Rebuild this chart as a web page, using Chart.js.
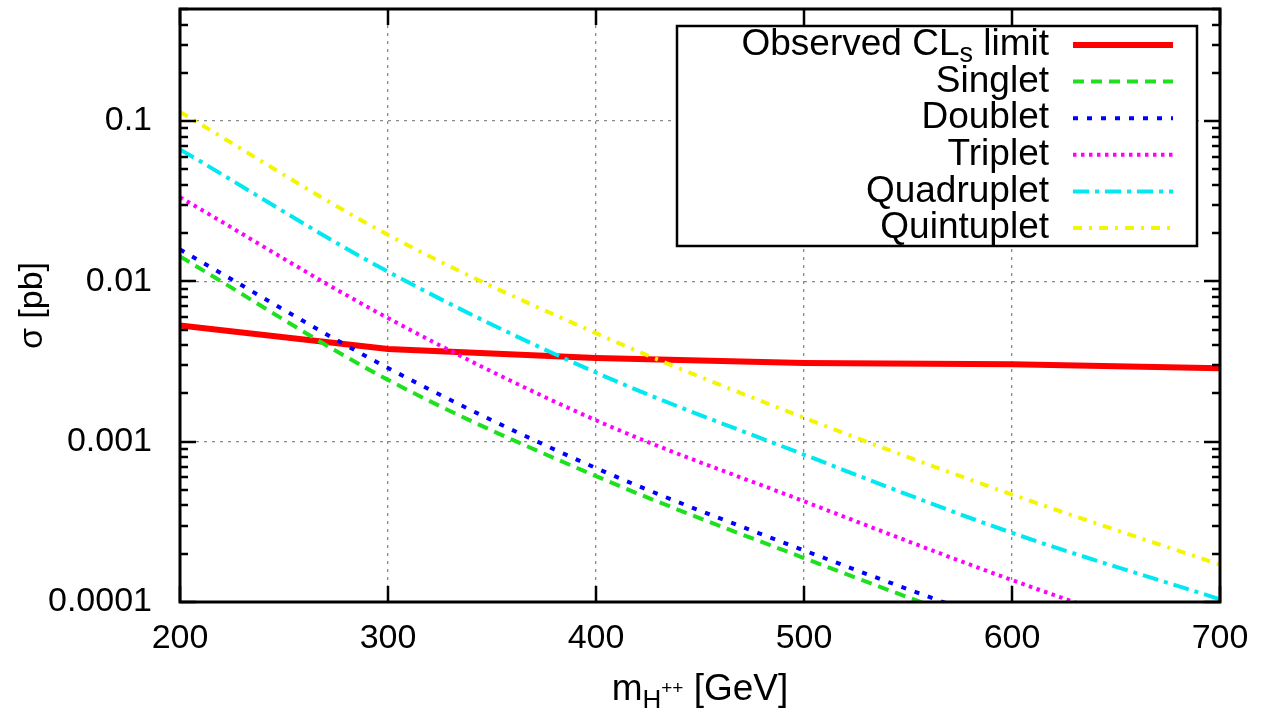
<!DOCTYPE html>
<html>
<head>
<meta charset="utf-8">
<script src="https://cdn.jsdelivr.net/npm/chart.js@4.4.0/dist/chart.umd.min.js"></script>
<style>
html, body { margin: 0; padding: 0; background: #fff; }
</style>
</head>
<body>
<canvas id="chart" width="1261" height="716"></canvas>
<script>
// valores (sigma em pb)
const masses = [200, 300, 400, 500, 600, 700];
const observed = [0.0053, 0.00378, 0.00333, 0.0031, 0.00304, 0.00287];
const singlet = [0.0143, 0.00243, 0.00061, 0.000188, 0.000062, 0.000022];
const doublet = [0.0158, 0.00288, 0.000685, 0.00021, 0.00007, 0.000025];
const triplet = [0.0335, 0.0059, 0.00136, 0.000425, 0.000137, 0.000049];
const quadruplet = [0.0666, 0.0115, 0.0027, 0.00083, 0.00027, 0.000104];
const quintuplet = [0.114, 0.0195, 0.00475, 0.00141, 0.000468, 0.000171];

const seriesLabels = ['Observed CLs limit', 'Singlet', 'Doublet', 'Triplet', 'Quadruplet', 'Quintuplet'];
const xTickValues = [200, 300, 400, 500, 600, 700];
const yTickValues = [0.0001, 0.001, 0.01, 0.1];
const yTickLabels = ['0.0001', '0.001', '0.01', '0.1'];

const FONT = "'Liberation Sans', Arial, sans-serif";

// marcas menores do eixo log (2..9 de cada década)
const yAllTicks = [];
yTickValues.forEach(d => {
    for (let k = 1; k <= 9; k++) {
        const v = +(k * d).toPrecision(3);
        if (v <= 0.5) yAllTicks.push(v);
    }
});

function pts(vals) {
    return masses.map((m, i) => ({ x: m, y: vals[i] }));
}

function makeSet(label, vals, color, width, dash, order, smooth) {
    return {
        label: label,
        data: pts(vals),
        borderColor: color,
        borderWidth: width,
        borderDash: dash,
        pointRadius: 0,
        fill: false,
        clip: 0,
        order: order,
        tension: 0,
        cubicInterpolationMode: smooth ? 'monotone' : 'default'
    };
}

// moldura e marcas de escala (para dentro, estilo gnuplot)
const framePlugin = {
    id: 'frame',
    afterDatasetsDraw(chart) {
        const { ctx, chartArea: a, scales } = chart;
        ctx.save();
        ctx.strokeStyle = '#000';
        ctx.lineWidth = 2.5;
        ctx.beginPath();
        scales.y.ticks.forEach(t => {
            const y = Math.round(scales.y.getPixelForValue(t.value));
            const len = yTickValues.includes(t.value) ? 16 : 8;
            ctx.moveTo(a.left, y); ctx.lineTo(a.left + len, y);
            ctx.moveTo(a.right, y); ctx.lineTo(a.right - len, y);
        });
        scales.x.ticks.forEach(t => {
            const x = Math.round(scales.x.getPixelForValue(t.value));
            ctx.moveTo(x, a.bottom); ctx.lineTo(x, a.bottom - 16);
            ctx.moveTo(x, a.top); ctx.lineTo(x, a.top + 16);
        });
        ctx.stroke();
        ctx.lineWidth = 3;
        ctx.strokeRect(a.left, a.top, a.right - a.left, a.bottom - a.top);
        ctx.restore();
    }
};

// legenda com texto à direita e amostra da linha
const keyPlugin = {
    id: 'key',
    afterDraw(chart) {
        const { ctx } = chart;
        const box = { x: 677, y: 26, w: 520, h: 220 };
        ctx.save();
        ctx.fillStyle = '#fff';
        ctx.fillRect(box.x, box.y, box.w, box.h);
        ctx.strokeStyle = '#000';
        ctx.lineWidth = 2.5;
        ctx.strokeRect(box.x, box.y, box.w, box.h);
        const textRight = 1049;
        const rowH = 36.6;
        chart.data.datasets.forEach((ds, i) => {
            const y = 45 + i * rowH;
            ctx.fillStyle = '#000';
            ctx.textBaseline = 'middle';
            ctx.font = '37px ' + FONT;
            if (ds.label.includes('CLs')) {
                const after = ' limit';
                const before = 'Observed CL';
                ctx.textAlign = 'left';
                const wA = ctx.measureText(after).width;
                const wB = ctx.measureText(before).width;
                ctx.font = '27px ' + FONT;
                const wS = ctx.measureText('s').width;
                let x = textRight - wA - wS - wB;
                ctx.font = '37px ' + FONT;
                ctx.fillText(before, x, y);
                x += wB;
                ctx.font = '27px ' + FONT;
                ctx.fillText('s', x, y + 10);
                x += wS;
                ctx.font = '37px ' + FONT;
                ctx.fillText(after, x, y);
            } else {
                ctx.textAlign = 'right';
                ctx.fillText(ds.label, textRight, y);
            }
            ctx.strokeStyle = ds.borderColor;
            ctx.lineWidth = ds.borderWidth;
            ctx.setLineDash(ds.borderDash || []);
            ctx.beginPath();
            ctx.moveTo(1073, y);
            ctx.lineTo(1173, y);
            ctx.stroke();
            ctx.setLineDash([]);
        });
        ctx.restore();
    }
};

// título do eixo x com subscrito e sobrescrito
const xTitlePlugin = {
    id: 'xTitle',
    afterDraw(chart) {
        const { ctx } = chart;
        const base = 700;
        ctx.save();
        ctx.fillStyle = '#000';
        ctx.textBaseline = 'alphabetic';
        ctx.textAlign = 'left';
        const parts = [
            { t: 'm', f: 37, dy: 0 },
            { t: 'H', f: 26, dy: 8 },
            { t: '++', f: 19, dy: -6 },
            { t: ' [GeV]', f: 37, dy: 0 }
        ];
        let total = 0;
        parts.forEach(p => { ctx.font = p.f + 'px ' + FONT; p.w = ctx.measureText(p.t).width; total += p.w; });
        let x = 700 - total / 2;
        parts.forEach(p => {
            ctx.font = p.f + 'px ' + FONT;
            ctx.fillText(p.t, x, base + p.dy);
            x += p.w;
        });
        ctx.restore();
    }
};

const ctx = document.getElementById('chart').getContext('2d');
new Chart(ctx, {
    type: 'line',
    data: {
        datasets: [
            makeSet(seriesLabels[0], observed, '#ff0000', 6, [], 5, false),
            makeSet(seriesLabels[1], singlet, '#1ee01e', 4, [11, 7], 4, true),
            makeSet(seriesLabels[2], doublet, '#0000ff', 4, [5, 9], 3, true),
            makeSet(seriesLabels[3], triplet, '#ff00ff', 4, [3.5, 4.5], 2, true),
            makeSet(seriesLabels[4], quadruplet, '#00e8f0', 4, [16, 6, 4, 6], 1, true),
            makeSet(seriesLabels[5], quintuplet, '#f5f500', 4, [9, 7, 3, 7], 0, true)
        ]
    },
    options: {
        responsive: false,
        animation: false,
        devicePixelRatio: 1,
        layout: { padding: { top: 9, right: 41, left: 0, bottom: 0 } },
        plugins: {
            legend: { display: false },
            tooltip: { enabled: false }
        },
        scales: {
            x: {
                type: 'linear',
                min: 200,
                max: 700,
                afterBuildTicks: scale => { scale.ticks = xTickValues.map(v => ({ value: v })); },
                afterFit: scale => {
                    scale.height = 114;
                    scale.paddingLeft = 0;
                    scale.paddingRight = 0;
                },
                ticks: {
                    color: '#000',
                    font: { family: FONT, size: 34 },
                    padding: 16,
                    maxRotation: 0,
                    autoSkip: false,
                    callback: v => String(v)
                },
                grid: {
                    drawTicks: false,
                    lineWidth: 1.3,
                    color: c => (c.tick && c.tick.value > 200 && c.tick.value < 700) ? '#8a8a8a' : 'rgba(0,0,0,0)'
                },
                border: { display: false, dash: [3, 5] }
            },
            y: {
                type: 'logarithmic',
                min: 0.0001,
                max: 0.5,
                afterBuildTicks: scale => { scale.ticks = yAllTicks.map(v => ({ value: v })); },
                afterFit: scale => {
                    scale.width = 180;
                    scale.paddingTop = 0;
                    scale.paddingBottom = 0;
                },
                ticks: {
                    color: '#000',
                    font: { family: FONT, size: 34 },
                    padding: 28,
                    autoSkip: false,
                    callback: v => {
                        const i = yTickValues.indexOf(v);
                        return i >= 0 ? yTickLabels[i] : '';
                    }
                },
                grid: {
                    drawTicks: false,
                    lineWidth: 1.3,
                    color: c => (c.tick && yTickValues.includes(c.tick.value) && c.tick.value > 0.0001) ? '#8a8a8a' : 'rgba(0,0,0,0)'
                },
                border: { display: false, dash: [3, 5] },
                title: {
                    display: true,
                    text: 'σ [pb]',
                    color: '#000',
                    font: { family: FONT, size: 34 },
                    padding: { top: 12, bottom: 0 }
                }
            }
        }
    },
    plugins: [framePlugin, keyPlugin, xTitlePlugin]
});
</script>
</body>
</html>
